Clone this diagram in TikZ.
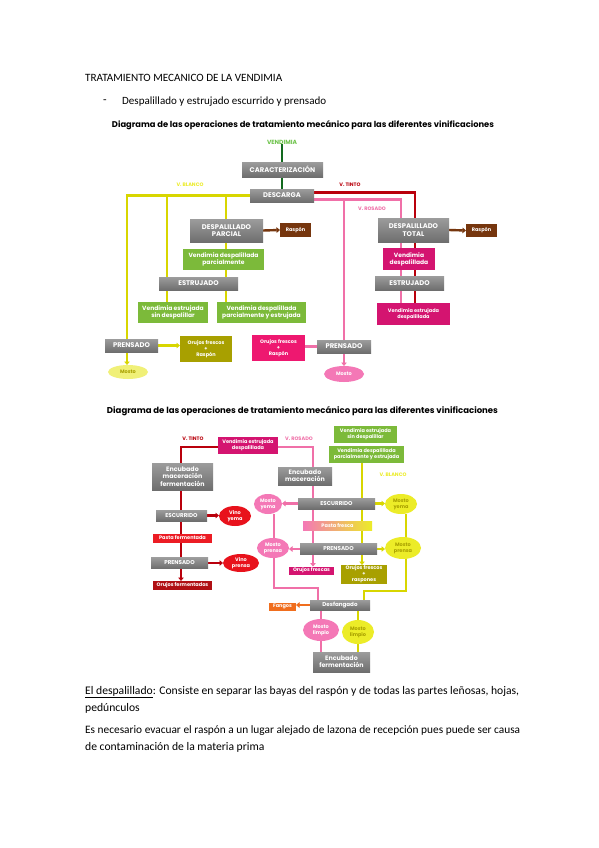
\documentclass[tikz,border=0pt]{standalone}
\usepackage{fontspec}
\setmainfont{Carlito}
\newfontfamily\dg{Poppins}
\usepackage{graphicx}
\usetikzlibrary{backgrounds,shapes.geometric,arrows.meta}
\definecolor{cgA}{RGB}{156,156,156}
\definecolor{cgB}{RGB}{110,110,110}
\definecolor{cgreen}{RGB}{124,186,58}
\definecolor{cdkgreen}{RGB}{18,105,30}
\definecolor{cvend}{RGB}{110,195,75}
\definecolor{cmag}{RGB}{212,20,112}
\definecolor{chot}{RGB}{238,24,112}
\definecolor{cpink}{RGB}{240,112,168}
\definecolor{cpinkell}{RGB}{244,120,182}
\definecolor{cyel}{RGB}{216,214,0}
\definecolor{cyelell}{RGB}{236,236,40}
\definecolor{cyellt}{RGB}{240,240,120}
\definecolor{colive}{RGB}{168,160,0}
\definecolor{cred}{RGB}{185,0,12}
\definecolor{credell}{RGB}{232,18,28}
\definecolor{credbox}{RGB}{236,28,36}
\definecolor{cdred}{RGB}{176,16,20}
\definecolor{cbrown}{RGB}{118,54,14}
\definecolor{corange}{RGB}{240,110,30}
\newcommand\fsA{\fontsize{6.8}{7.8}\selectfont}
\newcommand\fsB{\fontsize{6}{7}\selectfont}
\newcommand\fsC{\fontsize{5}{5.9}\selectfont}
\newcommand\fsD{\fontsize{5.6}{6.4}\selectfont}
\newcommand\fsE{\fontsize{6.3}{7.3}\selectfont}
\newcommand\fitw[2]{\resizebox{#1}{!}{#2}}
\newcommand\bodyfs{\fontsize{11}{13}\selectfont}
\newsavebox\lineboxA
\tikzset{
  bx/.style={inner sep=0pt, outer sep=0pt, align=center, text=white, font=\dg\bfseries},
  gb/.style={bx, top color=cgA, bottom color=cgB},
  grb/.style={bx, fill=cgreen},
  mgb/.style={bx, fill=cmag},
  hotb/.style={bx, fill=chot},
  olb/.style={bx, fill=colive},
  brb/.style={bx, fill=cbrown},
  rdb/.style={bx, fill=credbox},
  drb/.style={bx, fill=cdred},
  orb/.style={bx, fill=corange},
  el/.style={ellipse, inner sep=0pt, outer sep=0pt, align=center, text=white, font=\dg\bfseries\fsC},
  lbl/.style={inner sep=0pt, font=\dg\bfseries\fsC},
  txt/.style={inner sep=0pt, anchor=west},
  lnG/.style={draw=cdkgreen, line width=2.8pt},
  lnY/.style={draw=cyel, line width=2.8pt},
  lnR/.style={draw=cred, line width=2.8pt},
  lnP/.style={draw=cpink, line width=2.8pt},
  lnB/.style={draw=cbrown, line width=2.4pt},
  lnY2/.style={draw=cyel, line width=2.3pt},
  lnR2/.style={draw=cred, line width=2.3pt},
  lnP2/.style={draw=cpink, line width=2.3pt},
  lnO/.style={draw=corange, line width=2pt},
  arw/.style={-{Triangle[length=3.5pt,width=5.5pt]}},
}
\begin{document}
\sbox\lineboxA{\bodyfs\underline{El despalillado}: Consiste en separar las bayas del raspón y de todas las partes leñosas, hojas,}
\pgfmathsetmacro\bodysc{434/\the\wd\lineboxA}
\begin{tikzpicture}[x=1pt,y=-1pt]
\useasboundingbox (0,0) rectangle (599,848);
% ---------- page text ----------
\node[txt] (h1) at (85,78) {\fitw{197pt}{TRATAMIENTO MECANICO DE LA VENDIMIA}};
\node[txt] (h2d) at (103,102) {\scalebox{\bodysc}{\bodyfs -}};
\node[txt] (h2) at (122,102) {\fitw{204pt}{Despalillado y estrujado escurrido y prensado}};
\node[inner sep=0pt] (ti1) at (303,125) {\fitw{382pt}{\dg\bfseries Diagrama de las operaciones de tratamiento mecánico para las diferentes vinificaciones}};
\node[inner sep=0pt] (ti2) at (302.5,411) {\fitw{391pt}{\dg\bfseries Diagrama de las operaciones de tratamiento mecánico para las diferentes vinificaciones}};
\node[txt] (p1) at (85,692) {\scalebox{\bodysc}{\usebox\lineboxA}};
\node[txt] (p2) at (85,708) {\scalebox{\bodysc}{\bodyfs pedúnculos}};
\node[txt] (p3) at (85,731) {\fitw{435pt}{\bodyfs Es necesario evacuar el raspón a un lugar alejado de lazona de recepción pues puede ser causa}};
\node[txt] (p4) at (85,747) {\scalebox{\bodysc}{\bodyfs de contaminación de la materia prima}};
% ---------- diagram 1 ----------
\node[lbl,text=cvend,font=\dg\bfseries\fsB] (vend) at (282,142) {VENDIMIA};
\node[gb,minimum width=81pt,minimum height=15pt,font=\dg\bfseries\fsA] (car) at (282.5,169.5) {CARACTERIZACIÓN};
\node[gb,minimum width=64pt,minimum height=13pt,font=\dg\bfseries\fsA] (desc) at (282,195.5) {DESCARGA};
\node[lbl,text=cyelell] (vb1) at (190,185) {V. BLANCO};
\node[lbl,text=cred] (vt1) at (350,185) {V. TINTO};
\node[lbl,text=cpink] (vr1) at (372,209) {V. ROSADO};
\node[gb,minimum width=73pt,minimum height=23pt,font=\dg\bfseries\fsA] (dpp) at (226.5,230.5) {DESPALILLADO\\PARCIAL};
\node[brb,minimum width=31pt,minimum height=14pt,font=\dg\bfseries\fsC] (rasp1) at (295.5,230) {Raspón};
\node[grb,minimum width=81pt,minimum height=21pt,font=\dg\bfseries\fsB] (vdp) at (223.5,259.5) {Vendimia despalillada\\parcialmente};
\node[gb,minimum width=79pt,minimum height=13pt,font=\dg\bfseries\fsA] (est1) at (198.5,283.5) {ESTRUJADO};
\node[grb,minimum width=70pt,minimum height=21pt,font=\dg\bfseries\fsB] (vesd) at (173,312.5) {Vendimia estrujada\\sin despalillar};
\node[grb,minimum width=89pt,minimum height=21pt,font=\dg\bfseries\fsB] (vdpe) at (261.5,312.5) {Vendimia despalillada\\parcialmente y estrujada};
\node[gb,minimum width=53pt,minimum height=13pt,font=\dg\bfseries\fsA] (pren1) at (131.5,345.5) {PRENSADO};
\node[olb,minimum width=52pt,minimum height=26pt,font=\dg\bfseries\fsC] (ojr1) at (206,349) {Orujos frescos\\+\\Raspón};
\node[el,fill=cyellt,text=colive,minimum width=40pt,minimum height=14pt] (mosto1) at (128,372) {Mosto};
\node[hotb,minimum width=53pt,minimum height=26pt,font=\dg\bfseries\fsC] (ojr2) at (278.5,348) {Orujos frescos\\+\\Raspón};
\node[gb,minimum width=54pt,minimum height=13pt,font=\dg\bfseries\fsA] (pren2) at (344,346.5) {PRENSADO};
\node[el,fill=cpinkell,minimum width=40pt,minimum height=16pt] (mosto2) at (344,374) {Mosto};
\node[gb,minimum width=71pt,minimum height=24pt,font=\dg\bfseries\fsA] (dpt) at (413.5,230) {DESPALILLADO\\TOTAL};
\node[brb,minimum width=31pt,minimum height=13pt,font=\dg\bfseries\fsC] (rasp2) at (481.5,230.5) {Raspón};
\node[mgb,minimum width=52pt,minimum height=22pt,font=\dg\bfseries\fsB] (vd) at (409,259) {Vendimia\\despalillada};
\node[gb,minimum width=69pt,minimum height=14pt,font=\dg\bfseries\fsA] (est2) at (409.5,283) {ESTRUJADO};
\node[mgb,minimum width=73pt,minimum height=22pt,font=\dg\bfseries\fsC] (ved) at (413.5,314) {Vendimia estrujada\\despalillada};
% ---------- diagram 2 ----------
\node[lbl,text=cred] (vt2) at (193,439) {V. TINTO};
\node[mgb,minimum width=60pt,minimum height=17pt,font=\dg\bfseries\fsC] (ved2) at (248,445.5) {Vendimia estrujada\\despalillada};
\node[lbl,text=cpink] (vr2) at (299,439) {V. ROSADO};
\node[grb,minimum width=63pt,minimum height=17pt,font=\dg\bfseries\fsC] (vesd2) at (365.5,434.5) {Vendimia estrujada\\sin despalillar};
\node[grb,minimum width=75pt,minimum height=17pt,font=\dg\bfseries\fsC] (vdpe2) at (366.5,454.5) {Vendimia despalillada\\parcialmente y estrujada};
\node[lbl,text=cyelell] (vb2) at (393,475) {V. BLANCO};
\node[gb,minimum width=61pt,minimum height=27pt,font=\dg\bfseries\fsE] (emf) at (182.5,476.5) {Encubado\\maceración\\fermentación};
\node[gb,minimum width=54pt,minimum height=18pt,font=\dg\bfseries\fsE] (em) at (305,476) {Encubado\\maceración};
\node[gb,minimum width=51pt,minimum height=11pt,font=\dg\bfseries\fsD] (esc1) at (181.5,515.5) {ESCURRIDO};
\node[el,fill=credell,minimum width=32pt,minimum height=20pt] (vy) at (235,516) {Vino\\yema};
\node[rdb,minimum width=59pt,minimum height=9pt,font=\dg\bfseries\fsC] (pf) at (182.5,538) {Pasta fermentada};
\node[gb,minimum width=57pt,minimum height=11pt,font=\dg\bfseries\fsD] (pren3) at (179.5,563) {PRENSADO};
\node[el,fill=credell,minimum width=36pt,minimum height=18pt] (vp) at (241,563) {Vino\\prensa};
\node[drb,minimum width=59pt,minimum height=9pt,font=\dg\bfseries\fsC] (of) at (182.5,585.5) {Orujos fermentados};
\node[el,fill=cpinkell,minimum width=28pt,minimum height=20pt] (myp) at (268,504) {Mosto\\yema};
\node[gb,minimum width=77pt,minimum height=11pt,font=\dg\bfseries\fsD] (esc2) at (336.5,503.5) {ESCURRIDO};
\node[el,fill=cyelell,text=colive,minimum width=32pt,minimum height=20pt] (myy) at (401,504) {Mosto\\yema};
\node[bx,left color=cpinkell,right color=cyelell,minimum width=69pt,minimum height=9pt,font=\dg\bfseries\fsC] (pfr) at (337.5,526) {Pasta fresca};
\node[el,fill=cpinkell,minimum width=32pt,minimum height=20pt] (mpp) at (273,548) {Mosto\\prensa};
\node[gb,minimum width=77pt,minimum height=11pt,font=\dg\bfseries\fsD] (pren4) at (338.5,549) {PRENSADO};
\node[el,fill=cyelell,text=colive,minimum width=36pt,minimum height=22pt] (mpy) at (403,548) {Mosto\\prensa};
\node[mgb,minimum width=45pt,minimum height=8pt,font=\dg\bfseries\fsC] (ofr) at (311.5,570.5) {Orujos frescas};
\node[olb,minimum width=46pt,minimum height=19pt,font=\dg\bfseries\fsC] (ofrr) at (364,574.5) {Orujos frescos\\+\\raspones};
\node[gb,minimum width=60pt,minimum height=10pt,font=\dg\bfseries\fsD] (desf) at (340,605) {Desfangado};
\node[orb,minimum width=27pt,minimum height=8pt,font=\dg\bfseries\fsC] (fangos) at (282.5,606.5) {Fangos};
\node[el,fill=cpinkell,minimum width=36pt,minimum height=22pt] (mlp) at (321,630) {Mosto\\limpio};
\node[el,fill=cyelell,text=colive,minimum width=32pt,minimum height=24pt] (mly) at (358,632) {Mosto\\limpio};
\node[gb,minimum width=57pt,minimum height=20pt,font=\dg\bfseries\fsE] (ef) at (341.5,662) {Encubado\\fermentación};
% ---------- connectors ----------
\begin{pgfonlayer}{background}
\fill[white] (0,0) rectangle (599,848);
\draw[lnG] (vend.south) -- (desc.north);
\coordinate (yb0) at (127,195.5);
\coordinate (yb1) at (167,195.5);
\coordinate (yb2) at (226,195.5);
\draw[lnY] (desc.west) -- (yb0) -- (yb0 |- pren1.north);
\draw[lnY] (yb1) -- (yb1 |- vesd.north);
\draw[lnY] (yb2) -- (yb2 |- vdpe.north);
\draw[lnY,arw] (yb0 |- pren1.south) -- (yb0 |- mosto1.north);
\draw[lnY,arw] (pren1.east) -- (ojr1.west |- pren1.east);
\coordinate (rt) at (415,192.5);
\draw[lnR] (desc.east |- rt) -- (rt) -- (rt |- ved.north);
\coordinate (pk) at (401,199.5);
\coordinate (pk2) at (344,199.5);
\draw[lnP] (desc.east |- pk) -- (pk) -- (pk |- ved.north);
\draw[lnP] (pk2) -- (pren2.north);
\draw[lnP,arw] (pren2.south) -- (mosto2.north);
\draw[lnP] (ojr2.east |- pren2.west) -- (pren2.west);
\draw[lnB,arw] (dpp.east) -- (rasp1.west);
\draw[lnB,arw] (dpt.east) -- (rasp2.west);
% diagram 2
\coordinate (r2) at (181,447);
\draw[lnR2,arw] (ved2.west |- r2) -- (r2) -- (r2 |- of.north);
\coordinate (p2) at (313,447);
\draw[lnP2,arw] (ved2.east |- p2) -- (p2) -- (p2 |- ofr.north);
\coordinate (y2) at ([xshift=-4.5pt]vdpe2.south);
\draw[lnY2,arw] (y2) -- (y2 |- ofrr.north);
\draw[lnR2,arw] (esc1.east) -- (esc1.east -| vy.west);
\draw[lnR2,arw] (pren3.east) -- (pren3.east -| vp.west);
\draw[lnP2,arw] (esc2.west) -- (esc2.west -| myp.east);
\draw[lnP2,arw] (pren4.west) -- (pren4.west -| mpp.east);
\draw[lnY2,arw] (esc2.east) -- (esc2.east -| myy.west);
\draw[lnY2,arw] (pren4.east) -- (pren4.east -| mpy.west);
\coordinate (px) at (274,588);
\coordinate (pdx) at (318,588);
\draw[lnP2] (px |- myp.south) -- (px) -- (pdx) -- (pdx |- desf.north);
\coordinate (yx) at (406,591);
\coordinate (ydx) at (364,591);
\draw[lnY2] (yx |- myy.south) -- (yx) -- (ydx) -- (ydx |- desf.north);
\draw[lnO,arw] (desf.west) -- (desf.west -| fangos.east);
\draw[lnP2] (desf.south -| mlp) -- (ef.north -| mlp);
\draw[lnY2] (desf.south -| mly) -- (ef.north -| mly);
\end{pgfonlayer}
\end{tikzpicture}
\end{document}
